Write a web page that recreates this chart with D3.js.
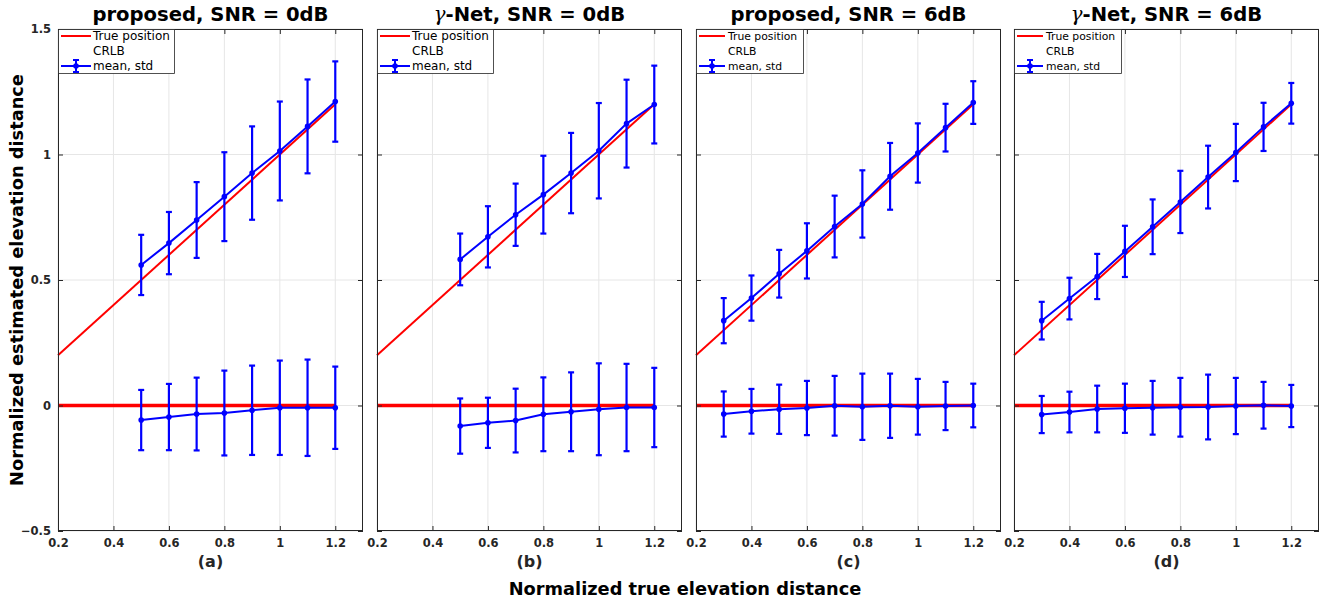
<!DOCTYPE html>
<html><head><meta charset="utf-8">
<script src="https://cdn.jsdelivr.net/npm/d3@7"></script>
<style>body{margin:0;background:#fff;} svg{display:block;font-family:"DejaVu Sans",sans-serif;}</style>
</head><body>
<svg id="c" width="1338" height="603"></svg>
<script>
// ---- data ----
const xs0dB = [0.5, 0.6, 0.7, 0.8, 0.9, 1.0, 1.1, 1.2];
const xs6dB = [0.3, 0.4, 0.5, 0.6, 0.7, 0.8, 0.9, 1.0, 1.1, 1.2];
const truePosX = [0.2, 1.2];

const proposed0UpperMean = [0.560, 0.647, 0.739, 0.832, 0.926, 1.014, 1.112, 1.211];
const proposed0UpperStd  = [0.120, 0.124, 0.151, 0.177, 0.186, 0.197, 0.187, 0.160];
const proposed0LowerMean = [-0.058, -0.046, -0.034, -0.030, -0.019, -0.009, -0.009, -0.009];
const proposed0LowerStd  = [0.120, 0.132, 0.145, 0.169, 0.178, 0.188, 0.192, 0.164];

const gamma0UpperMean = [0.582, 0.672, 0.760, 0.840, 0.926, 1.015, 1.123, 1.199];
const gamma0UpperStd  = [0.103, 0.122, 0.124, 0.155, 0.160, 0.190, 0.175, 0.155];
const gamma0LowerMean = [-0.082, -0.069, -0.060, -0.035, -0.025, -0.015, -0.008, -0.008];
const gamma0LowerStd  = [0.110, 0.100, 0.127, 0.147, 0.157, 0.183, 0.174, 0.158];

const proposed6UpperMean = [0.338, 0.428, 0.525, 0.616, 0.713, 0.803, 0.913, 1.006, 1.107, 1.207];
const proposed6UpperStd  = [0.090, 0.090, 0.095, 0.110, 0.123, 0.134, 0.133, 0.118, 0.095, 0.085];
const proposed6LowerMean = [-0.034, -0.023, -0.015, -0.010, -0.001, -0.005, -0.001, -0.005, -0.002, 0.000];
const proposed6LowerStd  = [0.090, 0.089, 0.098, 0.108, 0.119, 0.132, 0.128, 0.111, 0.096, 0.087];

const gamma6UpperMean = [0.338, 0.426, 0.514, 0.614, 0.712, 0.811, 0.910, 1.008, 1.110, 1.204];
const gamma6UpperStd  = [0.075, 0.083, 0.090, 0.102, 0.109, 0.124, 0.125, 0.114, 0.096, 0.081];
const gamma6LowerMean = [-0.036, -0.026, -0.014, -0.011, -0.009, -0.007, -0.006, -0.002, 0.001, -0.002];
const gamma6LowerStd  = [0.074, 0.081, 0.093, 0.098, 0.107, 0.117, 0.129, 0.112, 0.093, 0.084];

const titlePrefix = ["proposed", "-Net", "proposed", "-Net"];
const titleSNR = ["SNR = 0dB", "SNR = 0dB", "SNR = 6dB", "SNR = 6dB"];
const hasGamma = [false, true, false, true];
const panelLabels = ["(a)", "(b)", "(c)", "(d)"];
const legendLabels = ["True position", "CRLB", "mean, std"];
const xTicks = [0.2, 0.4, 0.6, 0.8, 1, 1.2];
const yTicks = [-0.5, 0, 0.5, 1, 1.5];
const xLabel = "Normalized true elevation distance";
const yLabel = "Normalized estimated elevation distance";

const panels = [
  {xs: xs0dB, up: proposed0UpperMean, upS: proposed0UpperStd, lo: proposed0LowerMean, loS: proposed0LowerStd},
  {xs: xs0dB, up: gamma0UpperMean, upS: gamma0UpperStd, lo: gamma0LowerMean, loS: gamma0LowerStd},
  {xs: xs6dB, up: proposed6UpperMean, upS: proposed6UpperStd, lo: proposed6LowerMean, loS: proposed6LowerStd},
  {xs: xs6dB, up: gamma6UpperMean, upS: gamma6UpperStd, lo: gamma6LowerMean, loS: gamma6LowerStd}
];

// ---- layout ----
const svg = d3.select("#c");
const lefts = [58, 377, 696, 1014];
const pw = 305, plotTop = 29, plotBottom = 531;
const legendFont = [12, 12, 10.8, 10.8];
const axisColor = "#262626";
const blue = "#0000ff", red = "#ff0000";

panels.forEach((p, i) => {
  const L = lefts[i];
  const x = d3.scaleLinear().domain([0.2, 1.3]).range([L, L + pw]);
  const y = d3.scaleLinear().domain([-0.5, 1.5]).range([plotBottom, plotTop]);
  const g = svg.append("g");

  // grid
  g.append("g").selectAll("line").data(xTicks).join("line")
    .attr("x1", d => x(d)).attr("x2", d => x(d)).attr("y1", plotTop).attr("y2", plotBottom)
    .attr("stroke", "#e6e6e6").attr("stroke-width", 1);
  g.append("g").selectAll("line").data(yTicks).join("line")
    .attr("x1", L).attr("x2", L + pw).attr("y1", d => y(d)).attr("y2", d => y(d))
    .attr("stroke", "#e6e6e6").attr("stroke-width", 1);

  // true position lines
  g.append("line").attr("x1", x(truePosX[0])).attr("x2", x(truePosX[1]))
    .attr("y1", y(truePosX[0])).attr("y2", y(truePosX[1]))
    .attr("stroke", red).attr("stroke-width", 2);
  g.append("line").attr("x1", x(truePosX[0])).attr("x2", x(truePosX[1]))
    .attr("y1", y(0)).attr("y2", y(0))
    .attr("stroke", red).attr("stroke-width", 3.5);

  // series
  const drawSeries = (means, stds) => {
    const pts = p.xs.map((xv, k) => ({x: xv, m: means[k], s: stds[k]}));
    const eb = g.append("g").attr("stroke", blue).attr("stroke-width", 2.2);
    pts.forEach(d => {
      eb.append("line").attr("x1", x(d.x)).attr("x2", x(d.x)).attr("y1", y(d.m - d.s)).attr("y2", y(d.m + d.s));
      eb.append("line").attr("x1", x(d.x) - 3).attr("x2", x(d.x) + 3).attr("y1", y(d.m - d.s)).attr("y2", y(d.m - d.s));
      eb.append("line").attr("x1", x(d.x) - 3).attr("x2", x(d.x) + 3).attr("y1", y(d.m + d.s)).attr("y2", y(d.m + d.s));
    });
    g.append("path").datum(pts)
      .attr("d", d3.line().x(d => x(d.x)).y(d => y(d.m)))
      .attr("fill", "none").attr("stroke", blue).attr("stroke-width", 2);
    g.append("g").selectAll("circle").data(pts).join("circle")
      .attr("cx", d => x(d.x)).attr("cy", d => y(d.m)).attr("r", 2.8).attr("fill", blue);
  };
  drawSeries(p.up, p.upS);
  drawSeries(p.lo, p.loS);

  // axes (ticks inward)
  const xb = g.append("g").attr("transform", `translate(0,${plotBottom})`)
    .call(d3.axisBottom(x).tickValues(xTicks).tickSize(-5).tickPadding(8).tickFormat(d3.format("~g")));
  const xt = g.append("g").attr("transform", `translate(0,${plotTop})`)
    .call(d3.axisTop(x).tickValues(xTicks).tickSize(-5).tickFormat(""));
  const yl = g.append("g").attr("transform", `translate(${L},0)`)
    .call(d3.axisLeft(y).tickValues(yTicks).tickSize(-5).tickPadding(7).tickFormat(i === 0 ? d3.format("~g") : ""));
  const yr = g.append("g").attr("transform", `translate(${L + pw},0)`)
    .call(d3.axisRight(y).tickValues(yTicks).tickSize(-5).tickFormat(""));
  [xb, xt, yl, yr].forEach(a => {
    a.select(".domain").remove();
    a.selectAll(".tick line").attr("stroke", axisColor);
    a.selectAll("text").attr("fill", "#262626").attr("font-size", "11.5px").attr("font-weight", "bold")
      .attr("font-family", "'DejaVu Sans', sans-serif");
  });
  g.append("rect").attr("x", L + 0.5).attr("y", plotTop + 0.5).attr("width", pw - 1).attr("height", plotBottom - plotTop - 1)
    .attr("fill", "none").attr("stroke", axisColor).attr("stroke-width", 1);

  // title
  const t = g.append("text").attr("x", L + pw / 2).attr("y", 21).attr("text-anchor", "middle")
    .attr("font-size", "19.6px").attr("font-weight", "bold").attr("fill", "#000");
  if (hasGamma[i]) {
    t.append("tspan").attr("font-family", "'DejaVu Serif', serif").attr("font-style", "italic")
      .attr("font-weight", "normal").text("γ");
  }
  t.append("tspan").text(titlePrefix[i] + ", " + titleSNR[i]);

  // panel label
  g.append("text").attr("x", L + pw / 2).attr("y", 567).attr("text-anchor", "middle")
    .attr("font-size", "16px").attr("font-weight", "bold").attr("fill", "#262626").text(panelLabels[i]);

  // legend
  const fs = legendFont[i];
  const lw = fs === 12 ? 116 : 107;
  const lg = g.append("g").attr("transform", `translate(${L},${plotTop})`);
  lg.append("rect").attr("x", 0.5).attr("y", 0.5).attr("width", lw).attr("height", 44)
    .attr("fill", "#fff").attr("stroke", "#262626").attr("stroke-width", 0.8);
  const rowY = [7, 22, 37];
  const sx0 = 3, sx1 = fs === 12 ? 33 : 29, tx = fs === 12 ? 35 : 32;
  lg.append("line").attr("x1", sx0).attr("x2", sx1).attr("y1", rowY[0]).attr("y2", rowY[0])
    .attr("stroke", red).attr("stroke-width", 2);
  lg.append("line").attr("x1", sx0).attr("x2", sx1).attr("y1", rowY[2]).attr("y2", rowY[2])
    .attr("stroke", blue).attr("stroke-width", 2);
  const mx = (sx0 + sx1) / 2;
  lg.append("line").attr("x1", mx).attr("x2", mx).attr("y1", rowY[2] - 6).attr("y2", rowY[2] + 6)
    .attr("stroke", blue).attr("stroke-width", 2);
  lg.append("line").attr("x1", mx - 3).attr("x2", mx + 3).attr("y1", rowY[2] - 6).attr("y2", rowY[2] - 6)
    .attr("stroke", blue).attr("stroke-width", 2);
  lg.append("line").attr("x1", mx - 3).attr("x2", mx + 3).attr("y1", rowY[2] + 6).attr("y2", rowY[2] + 6)
    .attr("stroke", blue).attr("stroke-width", 2);
  lg.append("circle").attr("cx", mx).attr("cy", rowY[2]).attr("r", 2.8).attr("fill", blue);
  legendLabels.forEach((s, k) => {
    lg.append("text").attr("x", tx).attr("y", rowY[k]).attr("dy", "0.35em")
      .attr("font-size", fs + "px").attr("fill", "#000").text(s);
  });
});

// axis labels
svg.append("text").attr("x", 685).attr("y", 595).attr("text-anchor", "middle")
  .attr("font-size", "17.8px").attr("font-weight", "bold").attr("fill", "#000").text(xLabel);
svg.append("text").attr("transform", "translate(23,280) rotate(-90)").attr("text-anchor", "middle")
  .attr("font-size", "17.8px").attr("font-weight", "bold").attr("fill", "#000").text(yLabel);
</script>
</body></html>
